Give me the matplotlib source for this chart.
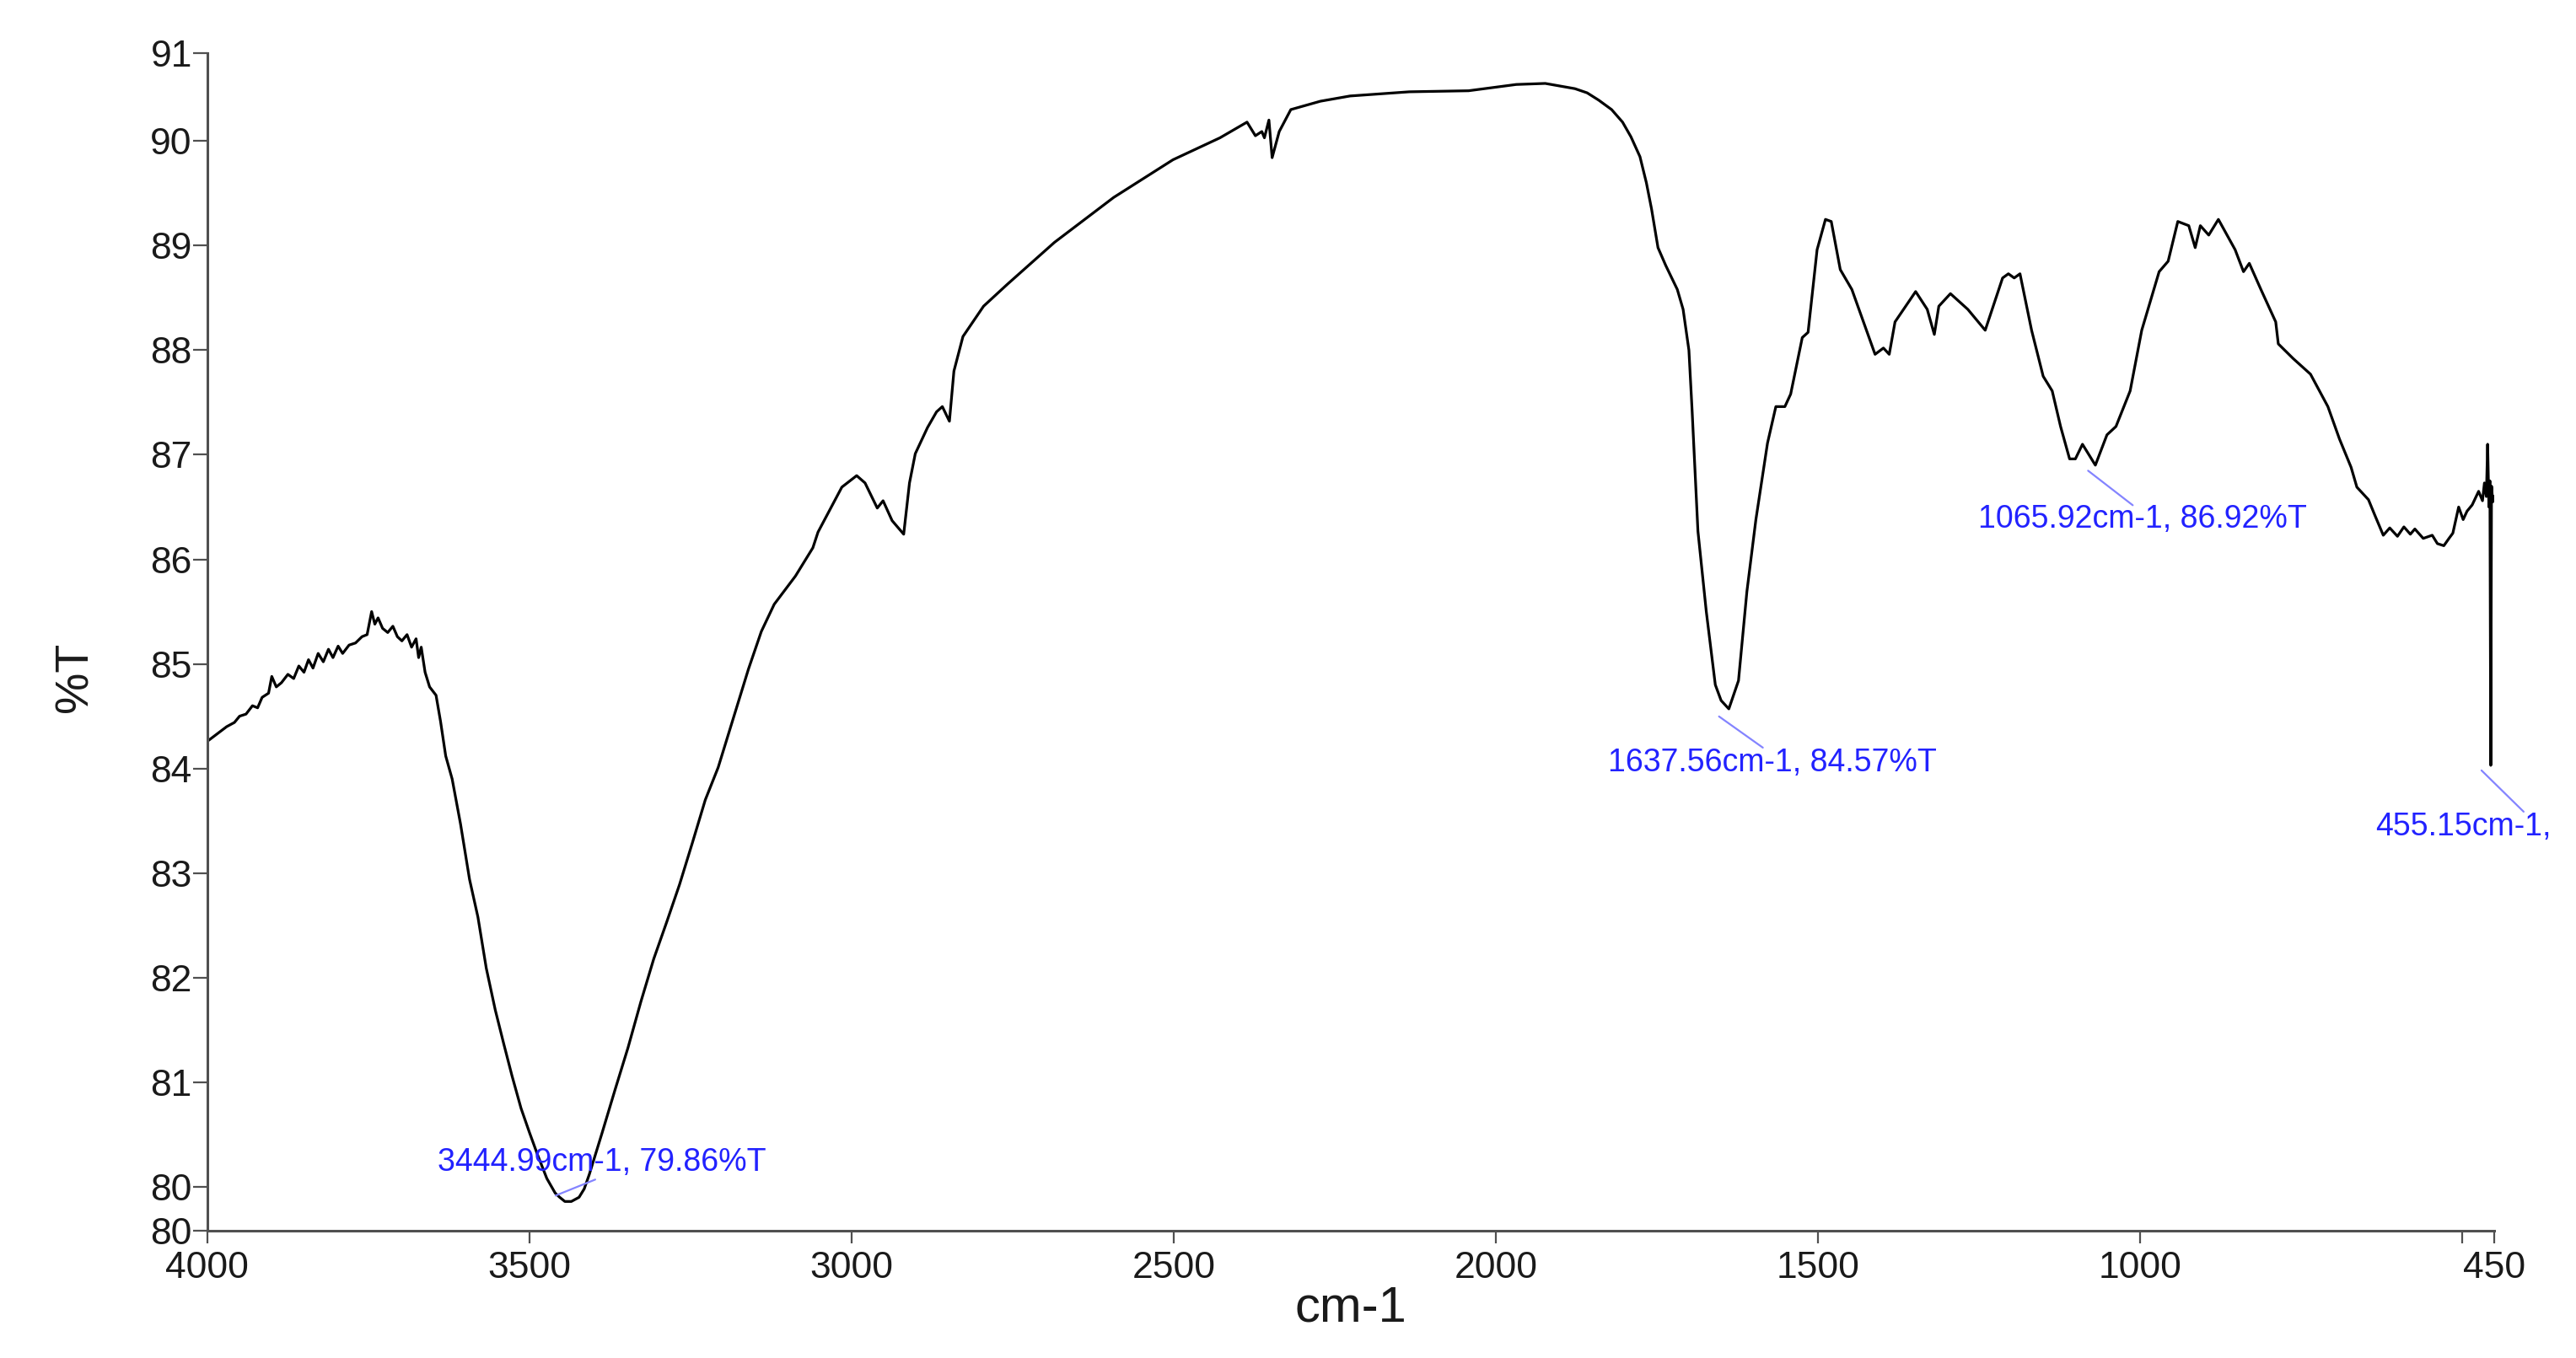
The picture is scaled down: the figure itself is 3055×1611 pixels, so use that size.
import matplotlib.pyplot as plt
from matplotlib.transforms import offset_copy

plt.rcParams['font.family'] = ['Liberation Sans', 'DejaVu Sans']

# FTIR spectrum: wavenumber (cm-1) and %T
wavenumber = [
    4000, 3985, 3970, 3958, 3950, 3940, 3930, 3922, 3915, 3905, 3900, 3893,
    3885, 3875, 3866, 3858, 3850, 3843, 3836, 3828, 3820, 3812, 3805, 3797,
    3790, 3780, 3770, 3760, 3752, 3745, 3740, 3735, 3728, 3720, 3712, 3705,
    3698, 3690, 3683, 3676, 3672, 3668, 3662, 3655, 3645, 3638, 3630, 3620,
    3607, 3593, 3580, 3567, 3553, 3540, 3527, 3513, 3500, 3487, 3473, 3460,
    3453, 3445, 3435, 3423, 3415, 3407, 3397, 3387, 3367, 3347, 3327, 3307,
    3287, 3267, 3247, 3227, 3207, 3180, 3160, 3140, 3120, 3087, 3060, 3052,
    3034, 3015, 2992, 2979, 2960, 2951, 2937, 2919, 2910, 2901, 2882, 2868,
    2859, 2848, 2841, 2827, 2795, 2758, 2685, 2593, 2501, 2428, 2386, 2373,
    2363, 2359, 2352, 2347, 2336, 2318, 2272, 2226, 2134, 2042, 1968, 1923,
    1877, 1858, 1840, 1820, 1803, 1790, 1776, 1766, 1758, 1748, 1736, 1718,
    1709, 1700, 1695, 1686, 1673, 1659, 1650, 1638, 1623, 1610, 1596, 1578,
    1565, 1551, 1542, 1524, 1515, 1501, 1488, 1479, 1465, 1447, 1429, 1411,
    1398, 1389, 1380, 1348, 1330, 1319, 1312, 1294, 1267, 1240, 1213, 1204,
    1195, 1186, 1168, 1150, 1136, 1123, 1109, 1100, 1089, 1069, 1051, 1037,
    1015, 997, 970, 956, 941, 924, 914, 906, 893, 878, 852, 839,
    830, 812, 789, 785, 762, 735, 708, 690, 672, 663, 645, 635,
    622, 612, 600, 590, 580, 573, 560, 546, 538, 528, 520, 514,
    505, 498, 492, 484, 474, 468, 465, 462, 460, 458, 456.5, 455.15,
    454, 452, 450.5,
]
transmittance = [
    84.26, 84.33, 84.40, 84.44, 84.50, 84.52, 84.60, 84.58, 84.68, 84.72, 84.88, 84.78,
    84.82, 84.90, 84.86, 84.98, 84.92, 85.04, 84.96, 85.10, 85.02, 85.14, 85.06, 85.17,
    85.10, 85.18, 85.20, 85.26, 85.28, 85.50, 85.38, 85.44, 85.34, 85.30, 85.36, 85.26,
    85.22, 85.28, 85.16, 85.24, 85.06, 85.16, 84.92, 84.78, 84.70, 84.45, 84.12, 83.90,
    83.47, 82.94, 82.58, 82.09, 81.69, 81.37, 81.06, 80.75, 80.52, 80.30, 80.08, 79.94,
    79.90, 79.86, 79.86, 79.90, 79.98, 80.12, 80.32, 80.52, 80.93, 81.33, 81.77, 82.18,
    82.53, 82.89, 83.29, 83.70, 84.01, 84.55, 84.95, 85.31, 85.57, 85.84, 86.11, 86.26,
    86.47, 86.69, 86.80, 86.73, 86.49, 86.56, 86.37, 86.24, 86.73, 87.01, 87.26, 87.41,
    87.46, 87.32, 87.80, 88.13, 88.42, 88.63, 89.03, 89.46, 89.82, 90.03, 90.18, 90.05,
    90.09, 90.03, 90.20, 89.84, 90.09, 90.30, 90.38, 90.43, 90.47, 90.48, 90.54, 90.55,
    90.50, 90.46, 90.39, 90.30, 90.18, 90.04, 89.85, 89.60, 89.35, 88.98, 88.81, 88.58,
    88.39, 88.00, 87.42, 86.27, 85.50, 84.80, 84.65, 84.57, 84.84, 85.69, 86.38, 87.11,
    87.46, 87.46, 87.58, 88.12, 88.17, 88.96, 89.25, 89.23, 88.77, 88.58, 88.27, 87.96,
    88.02, 87.96, 88.27, 88.56, 88.39, 88.15, 88.42, 88.54, 88.39, 88.19, 88.69, 88.73,
    88.69, 88.73, 88.19, 87.75, 87.61, 87.27, 86.96, 86.96, 87.10, 86.90, 87.19, 87.27,
    87.61, 88.19, 88.75, 88.85, 89.23, 89.19, 88.98, 89.19, 89.10, 89.25, 88.96, 88.75,
    88.83, 88.58, 88.27, 88.06, 87.92, 87.77, 87.46, 87.15, 86.88, 86.69, 86.57, 86.42,
    86.23, 86.30, 86.22, 86.31, 86.24, 86.29, 86.20, 86.23, 86.15, 86.13, 86.20, 86.25,
    86.50, 86.38, 86.46, 86.52, 86.65, 86.56, 86.73, 86.60, 87.10, 86.50, 86.75, 84.03,
    86.70, 86.55, 86.60,
]

# peak labels
peak_wn = [3444.99, 1637.56, 1065.92, 455.15]
peak_T = [79.86, 84.57, 86.92, 84.03]
peak_text = ['3444.99cm-1, 79.86%T', '1637.56cm-1, 84.57%T',
             '1065.92cm-1, 86.92%T', '455.15cm-1,']

# x ticks (500 has a tick but no label)
xticks = [4000, 3500, 3000, 2500, 2000, 1500, 1000, 500, 450]
xticklabels = ['4000', '3500', '3000', '2500', '2000', '1500', '1000', '', '450']
y_lo, y_hi = 79.58, 90.84
yticks = [y_lo] + list(range(80, 91)) + [y_hi]
yticklabels = ['80'] + [str(v) for v in range(80, 91)] + ['91']

fig = plt.figure(figsize=(30.55, 16.11), dpi=100)
ax = fig.add_axes([0.0805, 0.0937, 0.8877, 0.8672])

ax.plot(wavenumber, transmittance, color='black', lw=2.3)

ax.set_xlim(4000, 450)
ax.set_ylim(y_lo, y_hi)
ax.set_xticks(xticks)
ax.set_xticklabels(xticklabels)
ax.set_yticks(yticks)
ax.set_yticklabels(yticklabels)

for side in ['top', 'right']:
    ax.spines[side].set_visible(False)
for side in ['left', 'bottom']:
    ax.spines[side].set_color('#505050')
    ax.spines[side].set_linewidth(2.2)

ax.tick_params(axis='y', direction='out', length=12, width=1.6, color='#505050',
               labelsize=32, pad=1, labelcolor='#1a1a1a')
ax.tick_params(axis='x', direction='out', length=11, width=1.6, color='#505050',
               labelsize=32, pad=6, labelcolor='#1a1a1a')

ax.set_xlabel('cm-1', fontsize=43, labelpad=0, color='#1a1a1a')
ax.set_ylabel('%T', fontsize=40, color='#1a1a1a')
ax.yaxis.set_label_coords(-0.048, 0.47)

# annotations: leader line offsets and text offsets in pixels (y up)
line_start = [(-11, 7), (-12, -9), (-11, -9), (-11, -6)]
line_vec = [(47, 19), (52, -37), (53, -41), (50, -49)]
text_off = [(44, 46), (51, -64), (54, -67), (-33, -73)]

for wn, tv, txt, ls, lv, to in zip(peak_wn, peak_T, peak_text, line_start, line_vec, text_off):
    start = offset_copy(ax.transData, fig=fig, x=ls[0], y=ls[1], units='dots')
    ax.annotate('', xy=(wn, tv), xycoords=start, xytext=lv, textcoords='offset pixels',
                arrowprops=dict(arrowstyle='-', color='#8484ff', lw=1.6,
                                shrinkA=0, shrinkB=0), annotation_clip=False)
    ax.annotate(txt, xy=(wn, tv), xytext=to, textcoords='offset pixels',
                ha='center', va='center', fontsize=27, color='#2222ff',
                annotation_clip=False)

fig.savefig('out.png', dpi=100, facecolor='white')
